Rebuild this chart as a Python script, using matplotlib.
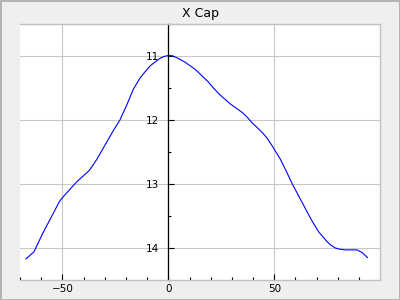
import matplotlib
matplotlib.use("Agg")
import matplotlib.pyplot as plt
from matplotlib.ticker import MultipleLocator

# curve
x = [-67.2, -63.4, -59.1, -54.3, -51.5, -49.6, -43.3, -37.3, -33.8, -30.0, -26.0,
     -22.8, -19.5, -16.5, -13.4, -11.0, -8.7, -6.0, -3.9, -2.0, 0.0, 2.0, 4.0, 7.9,
     12.6, 15.5, 18.9, 21.5, 24.4, 29.2, 34.7, 37.0, 39.4, 44.1, 46.5, 48.9, 52.8,
     55.5, 58.5, 63.0, 67.5, 71.0, 74.9, 76.5, 78.8, 81.0, 83.5, 86.0, 89.0, 91.4, 94.0]
y = [14.17, 14.06, 13.76, 13.46, 13.28, 13.20, 12.97, 12.79, 12.62, 12.40, 12.17,
     12.00, 11.76, 11.52, 11.35, 11.25, 11.16, 11.09, 11.04, 11.01, 10.995, 11.0, 11.03, 11.10,
     11.21, 11.30, 11.41, 11.51, 11.61, 11.75, 11.88, 11.95, 12.04, 12.19, 12.28, 12.40, 12.61,
     12.79, 13.00, 13.28, 13.56, 13.75, 13.90, 13.95, 14.00, 14.02, 14.03, 14.03, 14.03, 14.07, 14.15]

title = "X Cap"

fig = plt.figure(figsize=(4, 3), dpi=100)
fig.patch.set_facecolor("#efefef")
fig.patch.set_edgecolor("#b4b4b4")
fig.patch.set_linewidth(2)

ax = fig.add_axes([0.05, 0.0667, 0.9, 0.854])
ax.set_facecolor("white")
ax.plot(x, y, color="#0000ff", lw=0.8)

ax.set_xlim(-70, 99.9)
ax.set_ylim(14.5, 10.5)

ax.xaxis.set_major_locator(MultipleLocator(50))
ax.xaxis.set_minor_locator(MultipleLocator(10))
ax.yaxis.set_major_locator(MultipleLocator(1))
ax.yaxis.set_minor_locator(MultipleLocator(0.5))

for s in ["top", "right", "bottom"]:
    ax.spines[s].set_color("#c0c0c0")
    ax.spines[s].set_linewidth(1)
ax.spines["left"].set_position(("data", 0))
ax.spines["left"].set_color("black")
ax.spines["left"].set_linewidth(0.9)

ax.tick_params(which="both", direction="in", colors="black", labelsize=7.5, width=0.8)
ax.tick_params(which="major", length=4)
ax.tick_params(which="minor", length=2.4)
ax.tick_params(axis="x", pad=3)
ax.tick_params(axis="y", pad=7)

ax.grid(True, which="major", color="#c8c8c8", lw=0.8)
ax.set_axisbelow(True)

ax.set_title(title, fontsize=9, pad=5)

plt.savefig("out.png", dpi=100, facecolor=fig.get_facecolor(), edgecolor=fig.get_edgecolor())
